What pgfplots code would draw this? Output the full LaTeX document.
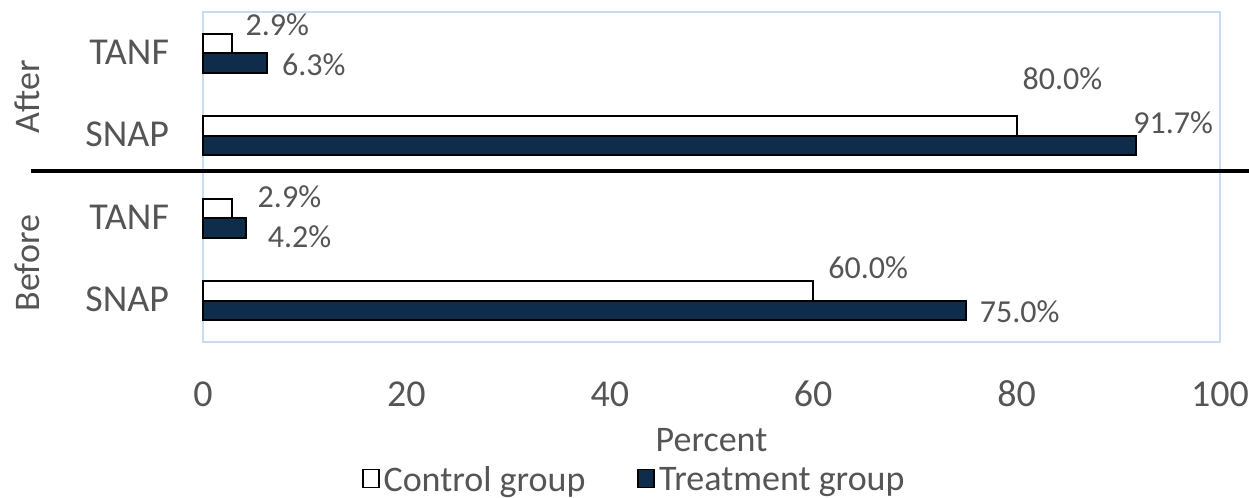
\documentclass[border=0pt]{standalone}
\usepackage{fontspec}
\setmainfont{Carlito}
\usepackage{pgfplots}
\pgfplotsset{compat=1.18}
\definecolor{txt}{HTML}{555555}
\definecolor{navy}{HTML}{0F2D4B}
\definecolor{frame}{HTML}{C9DCF1}
\newcommand{\fs}[1]{\fontsize{#1}{#1}\selectfont}
\tikzset{lab/.style={font=\fs{16bp}, text=txt, anchor=center}}

\begin{document}
\begin{tikzpicture}
\begin{axis}[
    scale only axis,
    width=508.5bp, height=165bp,
    xbar, bar width=9.75bp,
    xmin=0, xmax=100, ymin=-0.5, ymax=3.5,
    xtick={0,20,40,60,80,100},
    ytick={0,1,2,3},
    yticklabels={SNAP,TANF,SNAP,TANF},
    major tick length=0pt,
    axis line style={frame, line width=1bp},
    /pgf/number format/assume math mode=true,
    xticklabel style={font=\fs{19bp}, text=txt, anchor=base, yshift=-32bp},
    yticklabel style={font=\fs{19bp}, text=txt, anchor=base east, xshift=-13.5bp, yshift=-5.5bp},
    xlabel={Percent},
    x label style={font=\fs{18bp}, text=txt, at={(axis description cs:0.5,0)}, anchor=base, yshift=-54.5bp},
    clip=false,
    legend columns=2,
    legend image code/.code={\draw[#1, line width=0.8bp] (0bp,-3.5bp) rectangle (8bp,5.5bp);},
    legend style={draw=none, fill=none, font=\fs{18bp}, text=txt,
        at={(axis description cs:0.425,-0.42)}, anchor=center,
        /tikz/every even column/.append style={column sep=24bp}},
]

% control group (upper bar of each pair)
\addplot[fill=white, draw=black, line width=1bp, bar shift=4.875bp] coordinates {
    (60.0,0) (2.9,1) (80.0,2) (2.9,3)
};
% treatment group
\addplot[fill=navy, draw=black, line width=1bp, bar shift=-4.875bp] coordinates {
    (75.0,0) (4.2,1) (91.7,2) (6.3,3)
};
\legend{Control group, Treatment group}

% data labels, moved by hand as in the source
\node[lab] at (axis cs:7.3,3.34) {2.9\%};
\node[lab] at (axis cs:10.9,2.86) {6.3\%};
\node[lab] at (axis cs:84.5,2.69) {80.0\%};
\node[lab] at (axis cs:95.4,2.155) {91.7\%};
\node[lab] at (axis cs:8.5,1.258) {2.9\%};
\node[lab] at (axis cs:9.5,0.773) {4.2\%};
\node[lab] at (axis cs:65.4,0.397) {60.0\%};
\node[lab] at (axis cs:80.3,-0.136) {75.0\%};

% group labels and divider
\node[rotate=90, anchor=base, font=\fs{18bp}, text=txt] at (axis cs:-16.1,2.47) {After};
\node[rotate=90, anchor=base, font=\fs{18bp}, text=txt] at (axis cs:-16.1,0.457) {Before};
\draw[black, line width=2bp] (axis cs:-16.9,1.573) -- (axis cs:102.85,1.573);
\end{axis}
\pgfresetboundingbox
\useasboundingbox (-101.5bp,-78bp) rectangle (523bp,171bp);
\end{tikzpicture}
\end{document}
